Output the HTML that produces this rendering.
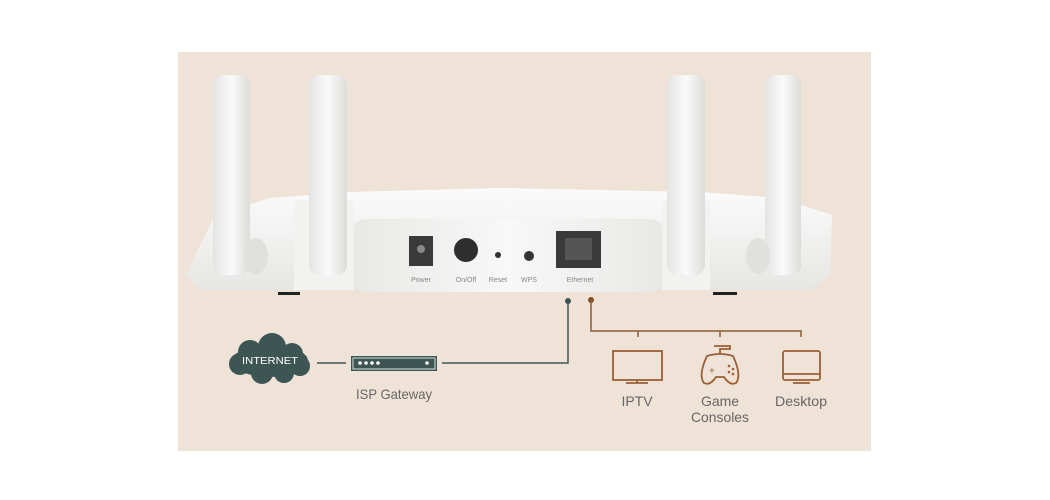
<!DOCTYPE html>
<html><head><style>body{margin:0;background:#fff}svg{display:block}</style></head><body>
<svg width="1050" height="500" viewBox="0 0 1050 500" font-family="Liberation Sans, sans-serif">
<defs>
<linearGradient id="ant" x1="0" x2="1"><stop offset="0" stop-color="#e4e4e2"/><stop offset="0.5" stop-color="#fafafa"/><stop offset="1" stop-color="#dcdcda"/></linearGradient>
<linearGradient id="body" x1="0" y1="0" x2="0" y2="1"><stop offset="0" stop-color="#fbfbfb"/><stop offset="1" stop-color="#e6e6e4"/></linearGradient>
<linearGradient id="inset" x1="0" y1="0" x2="1" y2="0"><stop offset="0" stop-color="#e8e8e6"/><stop offset="0.5" stop-color="#f8f8f8"/><stop offset="1" stop-color="#e8e8e6"/></linearGradient>
</defs>
<rect x="178" y="52" width="693" height="399" fill="#efe3d8"/>
<path d="M186 275 L215 215 L270 198 L350 192 L500 188 L700 192 L780 198 L832 215 L830 275 L812 290 L200 290 Z" fill="url(#body)"/>
<rect x="352" y="219" width="312" height="73" rx="14" fill="url(#inset)"/>
<rect x="294" y="200" width="60" height="90" fill="#f2f2f0"/>
<rect x="662" y="200" width="48" height="90" fill="#f2f2f0"/>
<rect x="213" y="75" width="37" height="200" rx="10" fill="url(#ant)"/>
<rect x="309" y="75" width="38" height="200" rx="10" fill="url(#ant)"/>
<rect x="667" y="75" width="38" height="200" rx="10" fill="url(#ant)"/>
<rect x="765" y="75" width="36" height="200" rx="10" fill="url(#ant)"/>
<ellipse cx="256" cy="256" rx="12" ry="18" fill="#e0e0de"/>
<ellipse cx="758" cy="256" rx="12" ry="18" fill="#e0e0de"/>
<rect x="409" y="236" width="24" height="30" fill="#3a3a3a"/><circle cx="421" cy="249" r="4" fill="#888"/>
<circle cx="466" cy="250" r="12" fill="#2e2e2e"/>
<circle cx="498" cy="255" r="3" fill="#333"/>
<circle cx="529" cy="256" r="5" fill="#333"/>
<rect x="556" y="231" width="45" height="37" fill="#3a3a3a"/><rect x="565" y="238" width="27" height="22" fill="#555"/>
<g font-size="7" fill="#888" text-anchor="middle">
<text x="421" y="282">Power</text><text x="466" y="282">On/Off</text><text x="498" y="282">Reset</text><text x="529" y="282">WPS</text><text x="580" y="282">Ethernet</text></g>
<rect x="278" y="292" width="22" height="3" fill="#222"/><rect x="713" y="292" width="24" height="3" fill="#222"/>
<circle cx="568" cy="301" r="3" fill="#3d5653"/><circle cx="591" cy="300" r="3" fill="#8a4a24"/>
<polyline points="568,301 568,363 442,363" fill="none" stroke="#3d5653" stroke-width="1.5"/>
<line x1="317" y1="363" x2="346" y2="363" stroke="#3d5653" stroke-width="1.5"/>
<polyline points="591,300 591,331 801,331 801,337" fill="none" stroke="#8a5a34" stroke-width="1.5"/>
<line x1="638" y1="331" x2="638" y2="337" stroke="#8a5a34" stroke-width="1.5"/>
<line x1="720" y1="331" x2="720" y2="337" stroke="#8a5a34" stroke-width="1.5"/>
<rect x="351" y="356" width="86" height="15" fill="#3d5653"/>
<rect x="353" y="358" width="82" height="11" fill="none" stroke="#fff" stroke-width="0.8"/>
<g fill="#fff"><circle cx="360" cy="363" r="1.8"/><circle cx="366" cy="363" r="1.8"/><circle cx="372" cy="363" r="1.8"/><circle cx="378" cy="363" r="1.8"/><circle cx="427" cy="363" r="1.8"/></g>
<g fill="#3d5653"><ellipse cx="270" cy="361" rx="38" ry="16"/><circle cx="250" cy="352" r="12"/><circle cx="272" cy="347" r="14"/><circle cx="292" cy="354" r="11"/><circle cx="240" cy="364" r="11"/><circle cx="300" cy="366" r="10"/><circle cx="262" cy="373" r="11"/><circle cx="284" cy="373" r="10"/></g>
<text x="270" y="364" font-size="10.5" fill="#fff" text-anchor="middle" textLength="56" lengthAdjust="spacingAndGlyphs">INTERNET</text>
<g fill="none" stroke="#9a5f35" stroke-width="1.8">
<rect x="613" y="351" width="49" height="29"/><line x1="626" y1="383" x2="648" y2="383"/><line x1="637" y1="380" x2="637" y2="383"/>
<path d="M707 356 Q720 352 733 356 Q742 375 736 383 Q730 386 724 377 L716 377 Q710 386 704 383 Q698 375 707 356 Z"/>
<path d="M720 354 L720 349 L730 349 L730 346 L714 346"/>
<rect x="783" y="351" width="37" height="29" rx="2"/><line x1="783" y1="374" x2="820" y2="374"/><line x1="793" y1="383" x2="810" y2="383"/>
</g>
<text x="709" y="374" font-size="10" fill="#9a5f35">+</text>
<g fill="#9a5f35"><circle cx="729" cy="366" r="1.3"/><circle cx="733" cy="369" r="1.3"/><circle cx="729" cy="372" r="1.3"/><circle cx="733" cy="374" r="1.3"/></g>
<g font-size="14" fill="#666" text-anchor="middle">
<text x="394" y="399" textLength="76" lengthAdjust="spacingAndGlyphs">ISP Gateway</text><text x="637" y="406">IPTV</text><text x="720" y="406">Game</text><text x="720" y="422" textLength="58" lengthAdjust="spacingAndGlyphs">Consoles</text><text x="801" y="406" textLength="52" lengthAdjust="spacingAndGlyphs">Desktop</text></g>
</svg>
</body></html>
